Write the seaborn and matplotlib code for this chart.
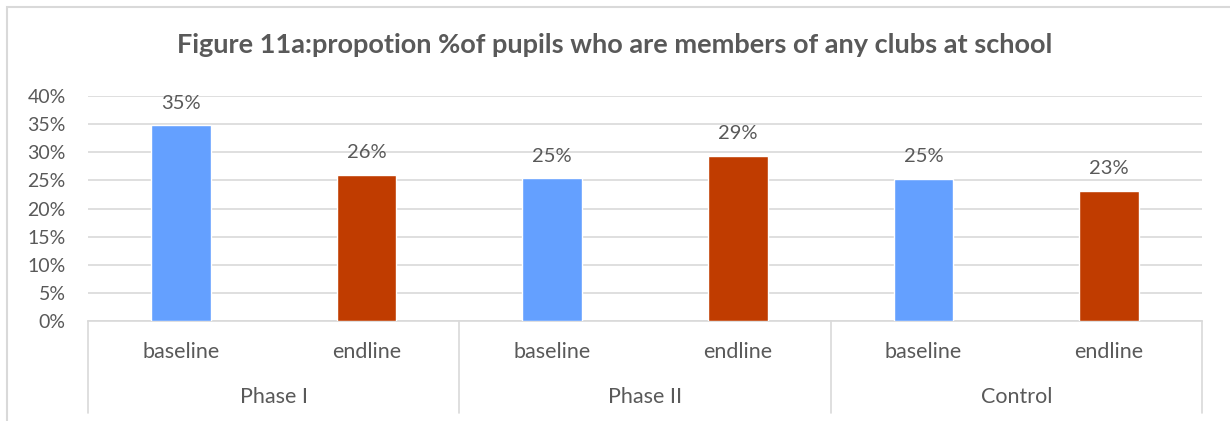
"""Figure 11a: share of pupils who are club members, by phase and round."""

import matplotlib.pyplot as plt
import matplotlib.transforms as mtransforms
import pandas as pd
import seaborn as sns
from matplotlib.patches import Rectangle

groups = ["Phase I", "Phase I", "Phase II", "Phase II", "Control", "Control"]
rounds = ["baseline", "endline", "baseline", "endline", "baseline", "endline"]
values = [0.348, 0.260, 0.254, 0.294, 0.253, 0.232]
value_labels = ["35%", "26%", "25%", "29%", "25%", "23%"]
yticks = [0.0, 0.05, 0.10, 0.15, 0.20, 0.25, 0.30, 0.35, 0.40]
ytick_labels = ["0%", "5%", "10%", "15%", "20%", "25%", "30%", "35%", "40%"]
group_names = ["Phase I", "Phase II", "Control"]

BLUE = "#64A0FF"
RED = "#C03C00"
TEXT = "#595959"
GRID = "#D9D9D9"

sns.set_theme(style="white")
plt.rcParams["font.family"] = ["Lato", "DejaVu Sans"]

df = pd.DataFrame({"slot": [f"{g}|{r}" for g, r in zip(groups, rounds)],
                   "round": rounds, "value": values})

fig = plt.figure(figsize=(12.3, 4.21), dpi=100)
ax = fig.add_axes([88 / 1230, 1 - 321 / 421, (1202 - 88) / 1230, (321 - 96) / 421])

sns.barplot(data=df, x="slot", y="value", hue="round", dodge=False,
            palette={"baseline": BLUE, "endline": RED}, width=0.32,
            saturation=1, legend=False, ax=ax, zorder=3)

ax.set_ylim(0, 0.40)
ax.set_xlim(-0.5, len(values) - 0.5)
ax.set_yticks(yticks)
ax.set_yticklabels(ytick_labels, color=TEXT, fontsize=14)
ax.yaxis.grid(True, color=GRID, linewidth=1.2, zorder=0)
ax.tick_params(axis="y", length=0, pad=16)
ax.tick_params(axis="x", length=0)
ax.set_xticks([])
ax.set_xlabel("")
ax.set_ylabel("")
for side in ["left", "right", "top"]:
    ax.spines[side].set_visible(False)
ax.spines["bottom"].set_color(GRID)
ax.spines["bottom"].set_linewidth(1.2)

for i, (v, lab) in enumerate(zip(values, value_labels)):
    ax.text(i, v + 0.024, lab, ha="center", va="bottom", color=TEXT, fontsize=14.5)

# multi-level category axis
trans = mtransforms.blended_transform_factory(ax.transData, ax.transAxes)
depth = -(413 - 321) / 225
for i, r in enumerate(rounds):
    ax.text(i, -(352 - 321) / 225, r, transform=trans, ha="center", va="center",
            color=TEXT, fontsize=15.5)
for k, name in enumerate(group_names):
    ax.text(2 * k + 0.5, -(397 - 321) / 225, name, transform=trans, ha="center",
            va="center", color=TEXT, fontsize=15.5)
for xb in [-0.5, 1.5, 3.5, 5.5]:
    ax.plot([xb, xb], [0, depth], transform=trans, color=GRID, linewidth=1.2,
            clip_on=False)

fig.text(0.5, 1 - 45 / 421, "Figure 11a:propotion %of pupils who are members of any clubs at school",
         ha="center", va="center", color=TEXT, fontsize=19.5, fontweight="bold")

# chart area border (cropped at right and bottom in the original)
fig.patches.append(Rectangle((7 / 1230, -0.1), 1.2, 1 - 7 / 421 + 0.1,
                             transform=fig.transFigure, fill=False,
                             edgecolor=GRID, linewidth=1.5))

fig.savefig("out.png", dpi=100)
